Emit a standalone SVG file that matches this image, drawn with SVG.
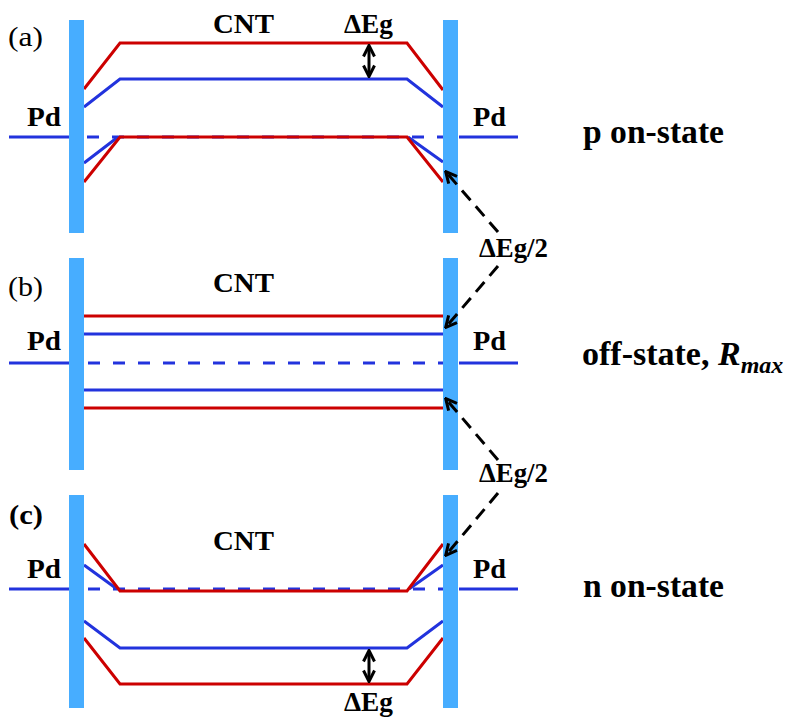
<svg xmlns="http://www.w3.org/2000/svg" width="791" height="719" viewBox="0 0 791 719">
<style>
.bar{fill:#47adff}
.r{stroke:#cc0000;stroke-width:3;fill:none}
.b{stroke:#2233dd;stroke-width:3;fill:none}
.d{stroke:#2233dd;stroke-width:3;fill:none;stroke-dasharray:12 13}
.t{font-weight:bold;fill:#000}
.lbl{fill:#000}
.da{stroke:#000;stroke-width:3;fill:none;stroke-dasharray:13 8}
.dbl{stroke:#000;stroke-width:3;fill:none}
</style>
<defs>
<marker id="chev" markerUnits="userSpaceOnUse" viewBox="0 0 14 14" markerWidth="14" markerHeight="14" refX="12" refY="7" orient="auto-start-reverse">
<path d="M1.5,1.5 L12.5,7 L1.5,12.5" fill="none" stroke="#000" stroke-width="3"/>
</marker>
</defs>
<rect width="791" height="719" fill="#fff"/>

<g font-family="Liberation Serif, Times New Roman, Times, serif">
<g id="panel-a">
<path class="b" d="M9,137 H69 M459,137 H518"/>
<path class="d" d="M87,137 H443"/>
<path class="b" d="M84,163 L118,137 M408,137 L443,162"/>
<path class="r" d="M84,182 L120,137 H407 L443,182"/>
<path class="r" d="M84,89 L120,43 H407 L443,90"/>
<path class="b" d="M84,107 L120,79 H407 L443,107"/>
<rect class="bar" x="69" y="20" width="15" height="213"/>
<rect class="bar" x="443" y="20" width="15" height="213"/>
<text class="lbl" x="8" y="46" font-size="28" textLength="35" lengthAdjust="spacingAndGlyphs">(a)</text>
<text class="t" x="213" y="33" font-size="27" textLength="61" lengthAdjust="spacingAndGlyphs">CNT</text>
<text class="t" x="27" y="126" font-size="28" textLength="34" lengthAdjust="spacingAndGlyphs">Pd</text>
<text class="t" x="473" y="126" font-size="28" textLength="33" lengthAdjust="spacingAndGlyphs">Pd</text>
<text class="t" x="344" y="33" font-size="27" textLength="49" lengthAdjust="spacingAndGlyphs">ΔEg</text>
<text class="t" x="583" y="143" font-size="34" textLength="141" lengthAdjust="spacingAndGlyphs">p on-state</text>
</g>

<g id="panel-b">
<path class="b" d="M9,363 H69 M459,363 H518"/>
<path class="d" d="M88,363 H443"/>
<path class="r" d="M84,316 H443"/>
<path class="b" d="M84,334 H443"/>
<path class="b" d="M84,390 H443"/>
<path class="r" d="M84,408 H443"/>
<rect class="bar" x="69" y="258" width="15" height="212"/>
<rect class="bar" x="443" y="258" width="15" height="212"/>
<text class="lbl" x="8" y="296" font-size="28" textLength="35" lengthAdjust="spacingAndGlyphs">(b)</text>
<text class="t" x="213" y="292" font-size="27" textLength="61" lengthAdjust="spacingAndGlyphs">CNT</text>
<text class="t" x="27" y="350" font-size="28" textLength="34" lengthAdjust="spacingAndGlyphs">Pd</text>
<text class="t" x="473" y="350" font-size="28" textLength="33" lengthAdjust="spacingAndGlyphs">Pd</text>
<text class="t" x="582" y="365" font-size="34">off-state, <tspan font-style="italic">R</tspan><tspan font-style="italic" font-size="24" dy="8">max</tspan></text>
</g>

<g id="panel-c">
<path class="b" d="M9,589 H69 M459,589 H518"/>
<path class="d" d="M88,589 H443"/>
<path class="b" d="M84,565 L117,589 M409,589 L443,565"/>
<path class="r" d="M84,544 L120,591 H407 L443,544"/>
<path class="b" d="M84,621 L120,648 H407 L443,621"/>
<path class="r" d="M84,638 L120,684 H407 L443,638"/>
<rect class="bar" x="69" y="495" width="15" height="213"/>
<rect class="bar" x="443" y="495" width="15" height="213"/>
<text class="t" x="9" y="524" font-size="28" textLength="34" lengthAdjust="spacingAndGlyphs">(c)</text>
<text class="t" x="213" y="550" font-size="27" textLength="61" lengthAdjust="spacingAndGlyphs">CNT</text>
<text class="t" x="27" y="578" font-size="28" textLength="34" lengthAdjust="spacingAndGlyphs">Pd</text>
<text class="t" x="473" y="578" font-size="28" textLength="33" lengthAdjust="spacingAndGlyphs">Pd</text>
<text class="t" x="344" y="711" font-size="27" textLength="49" lengthAdjust="spacingAndGlyphs">ΔEg</text>
<text class="t" x="583" y="597" font-size="34" textLength="141" lengthAdjust="spacingAndGlyphs">n on-state</text>
</g>

<g id="labels">
<text class="t" x="479" y="257" font-size="27" textLength="69" lengthAdjust="spacingAndGlyphs">ΔEg/2</text>
<text class="t" x="479" y="482" font-size="27" textLength="69" lengthAdjust="spacingAndGlyphs">ΔEg/2</text>
</g>
</g>

<g id="connectors">
<path class="dbl" d="M369,46 V76" marker-start="url(#chev)" marker-end="url(#chev)"/>
<path class="dbl" d="M369,651 V681" marker-start="url(#chev)" marker-end="url(#chev)"/>
<path class="da" d="M498,232 L446,172" marker-end="url(#chev)"/>
<path class="da" d="M498,266 L446,327" marker-end="url(#chev)"/>
<path class="da" d="M498,460 L446,399" marker-end="url(#chev)"/>
<path class="da" d="M498,493 L446,555" marker-end="url(#chev)"/>
</g>
</svg>
